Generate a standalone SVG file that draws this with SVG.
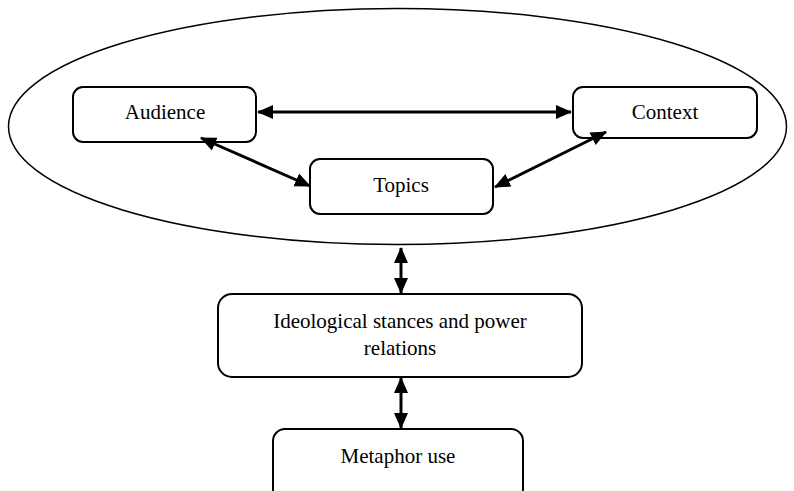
<svg xmlns="http://www.w3.org/2000/svg" width="794" height="491" viewBox="0 0 794 491">
<style>
.box{fill:#fff;stroke:#000;stroke-width:2}
.lbl{font-family:"Liberation Serif","Times New Roman",serif;font-size:21px;fill:#000;text-anchor:middle}
.arr{stroke:#000;stroke-width:3;fill:none;marker-start:url(#ah);marker-end:url(#ah)}
</style>
<defs>
<marker id="ah" markerUnits="userSpaceOnUse" markerWidth="16" markerHeight="16" viewBox="0 0 16 16" refX="15" refY="8" orient="auto-start-reverse">
<path d="M0,1 L16,8 L0,15 Z" fill="#000"/>
</marker>
</defs>
<rect width="794" height="491" fill="#fff"/>
<ellipse id="scope" cx="397.5" cy="126.5" rx="389" ry="118" fill="none" stroke="#000" stroke-width="1.5"/>
<g id="audience"><rect class="box" x="73" y="87" width="183" height="55" rx="10"/><text class="lbl" x="165" y="119">Audience</text></g>
<g id="context"><rect class="box" x="573" y="87" width="184" height="51" rx="10"/><text class="lbl" x="665" y="119">Context</text></g>
<g id="topics"><rect class="box" x="310" y="159" width="183" height="55" rx="10"/><text class="lbl" x="401" y="192">Topics</text></g>
<g id="ideology"><rect class="box" x="218" y="294" width="364" height="83" rx="14"/><text class="lbl" x="400" y="328">Ideological stances and power</text><text class="lbl" x="400" y="355">relations</text></g>
<g id="metaphor"><rect class="box" x="273" y="429" width="250" height="72" rx="12"/><text class="lbl" x="398" y="463">Metaphor use</text></g>
<g id="connectors">
<line class="arr" x1="258" y1="112" x2="571" y2="112"/>
<line class="arr" x1="201" y1="138" x2="310" y2="186"/>
<line class="arr" x1="606" y1="132" x2="495" y2="187"/>
<line class="arr" x1="401" y1="248" x2="401" y2="293"/>
<line class="arr" x1="401" y1="378" x2="401" y2="428"/>
</g>
</svg>
